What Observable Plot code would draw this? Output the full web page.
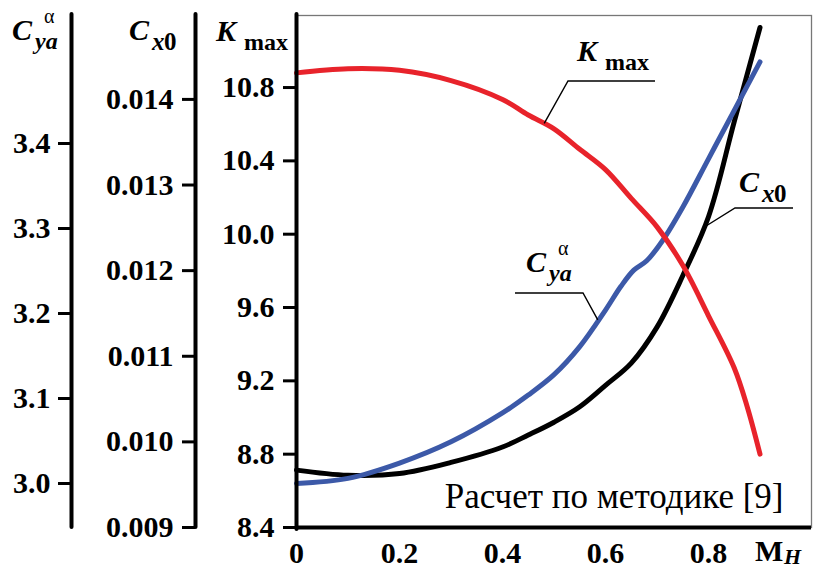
<!DOCTYPE html>
<html>
<head>
<meta charset="utf-8">
<script src="https://cdn.jsdelivr.net/npm/d3@7"></script>
<script src="https://cdn.jsdelivr.net/npm/@observablehq/plot@0.6"></script>
<style>
  html, body { margin: 0; padding: 0; background: #fff; }
  #chart svg { display: block; }
  #chart svg, #chart svg text { font-family: "Liberation Serif", "DejaVu Serif", serif !important; }
</style>
</head>
<body>
<div id="chart"></div>
<script>
// ---- data ----
const machK  = [0, 0.1, 0.2, 0.3, 0.4, 0.45, 0.5, 0.55, 0.6, 0.65, 0.7, 0.75, 0.8, 0.85, 0.875, 0.9];
const kmax   = [10.88, 10.903, 10.894, 10.838, 10.735, 10.65, 10.575, 10.463, 10.352, 10.195, 10.04, 9.83, 9.555, 9.27, 9.06, 8.80];

const machCx = [0, 0.1, 0.2, 0.3, 0.4, 0.45, 0.5, 0.55, 0.6, 0.65, 0.7, 0.75, 0.8, 0.85, 0.9];
const cx0    = [0.00967, 0.00961, 0.00963, 0.00976, 0.00994, 0.01008, 0.01023, 0.01041, 0.01066, 0.01092, 0.01134, 0.01194, 0.01263, 0.01374, 0.01484];

const machCy = [0, 0.1, 0.2, 0.3, 0.4, 0.45, 0.5, 0.55, 0.6, 0.63, 0.655, 0.68, 0.71, 0.75, 0.8, 0.85, 0.9];
const cya    = [3.000, 3.006, 3.024, 3.049, 3.083, 3.104, 3.128, 3.161, 3.204, 3.232, 3.251, 3.262, 3.285, 3.325, 3.382, 3.439, 3.496];

const xTicks   = [0, 0.2, 0.4, 0.6, 0.8];
const kTicks   = [8.4, 8.8, 9.2, 9.6, 10.0, 10.4, 10.8];
const cxTicks  = [0.009, 0.010, 0.011, 0.012, 0.013, 0.014];
const cyaTicks = [3.0, 3.1, 3.2, 3.3, 3.4];

const noteText = "Расчет по методике [9]";

// ---- scales ----
const kDomain  = [8.4, 11.193];
const cxDomain = [0.009, 0.01498];
const cyDomain = [2.9482, 3.5506];
const cxToK = d3.scaleLinear(cxDomain, kDomain);
const cyToK = d3.scaleLinear(cyDomain, kDomain);

const redRows   = machK.map((m, i) => ({m, v: kmax[i]}));
const blackRows = machCx.map((m, i) => ({m, v: cx0[i]}));
const blueRows  = machCy.map((m, i) => ({m, v: cya[i]}));

const RED = "#e8232b", BLUE = "#3c59a8", BLACK = "#000";
const FONT = "Liberation Serif";

const axisCommon = {tickSize: 13, strokeWidth: 3, fontSize: 30, fontWeight: "bold", label: null};

const plot = Plot.plot({
  width: 819,
  height: 569,
  marginLeft: 296,
  marginRight: 8,
  marginTop: 15,
  marginBottom: 42,
  style: {fontFamily: FONT, background: "#fff", color: "#000"},
  x: {domain: [0, 1], label: null},
  y: {domain: kDomain, label: null},
  marks: [
    Plot.frame({stroke: "#777", strokeWidth: 1.3}),
    // secondary axis lines
    Plot.ruleX([0], {dx: -101, stroke: BLACK, strokeWidth: 4, strokeLinecap: "round", insetTop: -1}),
    Plot.ruleX([0], {dx: -225, stroke: BLACK, strokeWidth: 4, strokeLinecap: "round", insetTop: -1}),
    // Cya axis
    Plot.axisY(cyaTicks.map(cyToK), {...axisCommon, dx: -225, tickPadding: 8,
      tickFormat: d => d3.format(".1f")(cyToK.invert(d))}),
    // Cx0 axis
    Plot.axisY(cxTicks.map(cxToK), {...axisCommon, dx: -101, tickPadding: 9,
      tickFormat: d => d3.format(".3f")(cxToK.invert(d))}),
    // Kmax axis
    Plot.axisY(kTicks, {...axisCommon, tickPadding: 9, tickFormat: d3.format(".1f")}),
    // x axis labels
    Plot.axisX(xTicks, {tickSize: 0, tickPadding: 14, fontSize: 30, fontWeight: "bold", label: null,
      tickFormat: d => d === 0 ? "0" : d3.format(".1f")(d)}),
    // curves
    Plot.line(blackRows, {x: "m", y: d => cxToK(d.v), stroke: BLACK, strokeWidth: 5, curve: "catmull-rom", strokeLinecap: "round"}),
    Plot.line(blueRows, {x: "m", y: d => cyToK(d.v), stroke: BLUE, strokeWidth: 5, curve: "catmull-rom", strokeLinecap: "round"}),
    Plot.line(redRows, {x: "m", y: "v", stroke: RED, strokeWidth: 5, curve: "catmull-rom", strokeLinecap: "round"}),
    // spines
    Plot.ruleX([0], {stroke: BLACK, strokeWidth: 4, strokeLinecap: "round", insetTop: -1, insetBottom: -2}),
    Plot.ruleY([kDomain[0]], {stroke: BLACK, strokeWidth: 4}),
    // note
    Plot.text([noteText], {frameAnchor: "bottom-right", text: d => d, dx: -28, dy: -20, fontSize: 35, textAnchor: "end", lineAnchor: "bottom"})
  ]
});

document.getElementById("chart").appendChild(plot);

// ---- rich text labels (sub/superscripts), each one text element ----
const svg = d3.select(plot);
svg.attr("font-family", FONT);
const sx = plot.scale("x"), sy = plot.scale("y");
const g = svg.append("g").attr("font-family", FONT).attr("fill", "#000")
  .attr("font-weight", "bold").attr("text-anchor", "start");

// parts: [text, dxFromOrigin, dyFromBaseline, size, italic, weight]
function rich(x, y, parts) {
  const el = g.append("text").attr("x", x).attr("y", y).attr("text-anchor", "start");
  for (const [s, ox, oy, size, italic, weight] of parts) {
    el.append("tspan").attr("x", x + ox).attr("y", y + oy).attr("font-size", size)
      .attr("font-style", italic ? "italic" : "normal").attr("font-weight", weight || "bold").text(s);
  }
}
const cyaParts = [["C", 0, 0, 30, true], ["ya", 23, 9, 24, true], ["α", 32, -17, 20, false, "normal"]];
const cxParts  = [["C", 0, 0, 30, true], ["x", 23, 10, 25, true], ["0", 35, 10, 25, false]];
const kParts   = [["K", 0, 0, 30, true], ["max", 28, 9, 24, false]];

// axis titles
rich(12, 40, cyaParts);
rich(129, 40, cxParts);
rich(216, 41, kParts);

// x axis title
rich(755, 561, [["M", 0, 0, 30, false], ["H", 29, 3, 22, true]]);

// in-plot labels with leaders
function leader(points) {
  g.append("path").attr("d", d3.line()(points)).attr("fill", "none").attr("stroke", "#000").attr("stroke-width", 1.4);
}
function onCurve(ms, vs, m, toK) {
  const v = d3.scaleLinear().domain(ms).range(vs)(m);
  return [sx.apply(m), sy.apply(toK(v))];
}
const id = v => v;

rich(577, 61, kParts);
leader([[655, 81], [568, 81], onCurve(machK, kmax, 0.482, id)]);

rich(739, 192, cxParts);
leader([[793, 208], [735, 208], onCurve(machCx, cx0, 0.79, cxToK)]);

rich(526, 272, cyaParts);
leader([[515, 293], [583, 293], onCurve(machCy, cya, 0.586, cyToK)]);
</script>
</body>
</html>
